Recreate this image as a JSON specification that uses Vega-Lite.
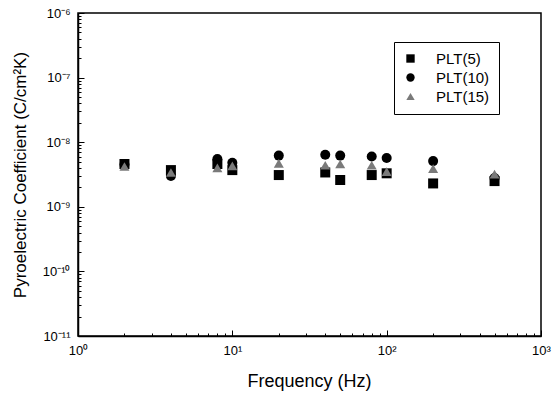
{
  "$schema": "https://vega.github.io/schema/vega-lite/v6.json",
  "autosize": {"type": "none"},
  "padding": {"left": 78, "top": 13, "right": 11, "bottom": 58},
  "width": 463,
  "height": 323,
  "background": "white",
  "config": {
    "font": "Liberation Sans",
    "view": {"stroke": "black", "strokeWidth": 1.5},
    "axis": {"labelFont": "Liberation Sans", "titleFont": "Liberation Sans", "labelColor": "black", "titleColor": "black", "domainColor": "black", "tickColor": "black", "titleFontWeight": "normal", "grid": false},
    "legend": {"labelFont": "Liberation Sans", "labelColor": "black"}
  },
  "data": {
    "values": [
      {"f": 2, "v": 4.6e-9, "s": "PLT(5)"},
      {"f": 4, "v": 3.7e-9, "s": "PLT(5)"},
      {"f": 8, "v": 4.6e-9, "s": "PLT(5)"},
      {"f": 10, "v": 3.7e-9, "s": "PLT(5)"},
      {"f": 20, "v": 3.1e-9, "s": "PLT(5)"},
      {"f": 40, "v": 3.4e-9, "s": "PLT(5)"},
      {"f": 50, "v": 2.6e-9, "s": "PLT(5)"},
      {"f": 80, "v": 3.1e-9, "s": "PLT(5)"},
      {"f": 100, "v": 3.3e-9, "s": "PLT(5)"},
      {"f": 200, "v": 2.3e-9, "s": "PLT(5)"},
      {"f": 500, "v": 2.5e-9, "s": "PLT(5)"},
      {"f": 2, "v": 4.5e-9, "s": "PLT(10)"},
      {"f": 4, "v": 3.0e-9, "s": "PLT(10)"},
      {"f": 8, "v": 5.5e-9, "s": "PLT(10)"},
      {"f": 10, "v": 4.8e-9, "s": "PLT(10)"},
      {"f": 20, "v": 6.2e-9, "s": "PLT(10)"},
      {"f": 40, "v": 6.4e-9, "s": "PLT(10)"},
      {"f": 50, "v": 6.2e-9, "s": "PLT(10)"},
      {"f": 80, "v": 6.0e-9, "s": "PLT(10)"},
      {"f": 100, "v": 5.7e-9, "s": "PLT(10)"},
      {"f": 200, "v": 5.1e-9, "s": "PLT(10)"},
      {"f": 500, "v": 2.8e-9, "s": "PLT(10)"},
      {"f": 2, "v": 4.2e-9, "s": "PLT(15)"},
      {"f": 4, "v": 3.4e-9, "s": "PLT(15)"},
      {"f": 8, "v": 4.0e-9, "s": "PLT(15)"},
      {"f": 10, "v": 4.3e-9, "s": "PLT(15)"},
      {"f": 20, "v": 4.7e-9, "s": "PLT(15)"},
      {"f": 40, "v": 4.4e-9, "s": "PLT(15)"},
      {"f": 50, "v": 4.6e-9, "s": "PLT(15)"},
      {"f": 80, "v": 4.4e-9, "s": "PLT(15)"},
      {"f": 100, "v": 3.5e-9, "s": "PLT(15)"},
      {"f": 200, "v": 3.9e-9, "s": "PLT(15)"},
      {"f": 500, "v": 3.2e-9, "s": "PLT(15)"}
    ]
  },
  "mark": {"type": "point", "filled": true, "opacity": 1, "size": 100},
  "encoding": {
    "x": {
      "field": "f", "type": "quantitative",
      "scale": {"type": "log", "domain": [1, 1000], "nice": false},
      "axis": {
        "title": "Frequency (Hz)",
        "titleFontSize": 18,
        "titleX": 231, "titleY": 45, "titleBaseline": "middle", "titleAlign": "center",
        "values": [1,2,3,4,5,6,7,8,9,10,20,30,40,50,60,70,80,90,100,200,300,400,500,600,700,800,900,1000],
        "labelExpr": "abs(log(datum.value)/LN10 - round(log(datum.value)/LN10)) < 0.001 ? '10' + ['⁰','¹','²','³'][round(log(datum.value)/LN10)] : ''",
        "labelFontSize": 13,
        "labelPadding": 14,
        "labelOverlap": false,
        "labelFlush": false,
        "tickSize": {"condition": {"test": "abs(log(datum.value)/LN10 - round(log(datum.value)/LN10)) < 0.001", "value": -6}, "value": -3},
        "domainWidth": 1.5
      }
    },
    "y": {
      "field": "v", "type": "quantitative",
      "scale": {"type": "log", "domain": [1e-11, 1e-6], "nice": false},
      "axis": {
        "title": "Pyroelectric Coefficient (C/cm²K)",
        "titleFontSize": 17,
        "titleX": -58, "titleY": 161.5, "titleAngle": -90, "titleBaseline": "middle", "titleAlign": "center",
        "values": [1e-11,2e-11,3e-11,4e-11,5e-11,6e-11,7e-11,8e-11,9e-11,1e-10,2e-10,3e-10,4e-10,5e-10,6e-10,7e-10,8e-10,9e-10,1e-9,2e-9,3e-9,4e-9,5e-9,6e-9,7e-9,8e-9,9e-9,1e-8,2e-8,3e-8,4e-8,5e-8,6e-8,7e-8,8e-8,9e-8,1e-7,2e-7,3e-7,4e-7,5e-7,6e-7,7e-7,8e-7,9e-7,1e-6],
        "labelExpr": "abs(log(datum.value)/LN10 - round(log(datum.value)/LN10)) < 0.001 ? '10⁻' + ['⁰','¹','²','³','⁴','⁵','⁶','⁷','⁸','⁹','¹⁰','¹¹'][round(-log(datum.value)/LN10)] : ''",
        "labelFontSize": 13,
        "labelPadding": 14,
        "labelOverlap": false,
        "labelFlush": false,
        "tickSize": {"condition": {"test": "abs(log(datum.value)/LN10 - round(log(datum.value)/LN10)) < 0.001", "value": -6}, "value": -3},
        "domainWidth": 1.5
      }
    },
    "shape": {
      "field": "s", "type": "nominal",
      "scale": {"domain": ["PLT(5)", "PLT(10)", "PLT(15)"], "range": ["square", "circle", "triangle-up"]},
      "legend": {
        "title": null, "orient": "none", "legendX": 316, "legendY": 29,
        "strokeColor": "black", "padding": 9, "labelFontSize": 15,
        "symbolSize": 70, "labelOffset": 18, "rowPadding": 3, "symbolStrokeWidth": 0
      }
    },
    "color": {
      "field": "s", "type": "nominal",
      "scale": {"domain": ["PLT(5)", "PLT(10)", "PLT(15)"], "range": ["#000000", "#000000", "#7a7a7a"]},
      "legend": {
        "title": null, "orient": "none", "legendX": 316, "legendY": 29,
        "strokeColor": "black", "padding": 9, "labelFontSize": 15,
        "symbolSize": 70, "labelOffset": 18, "rowPadding": 3, "symbolStrokeWidth": 0
      }
    }
  }
}
